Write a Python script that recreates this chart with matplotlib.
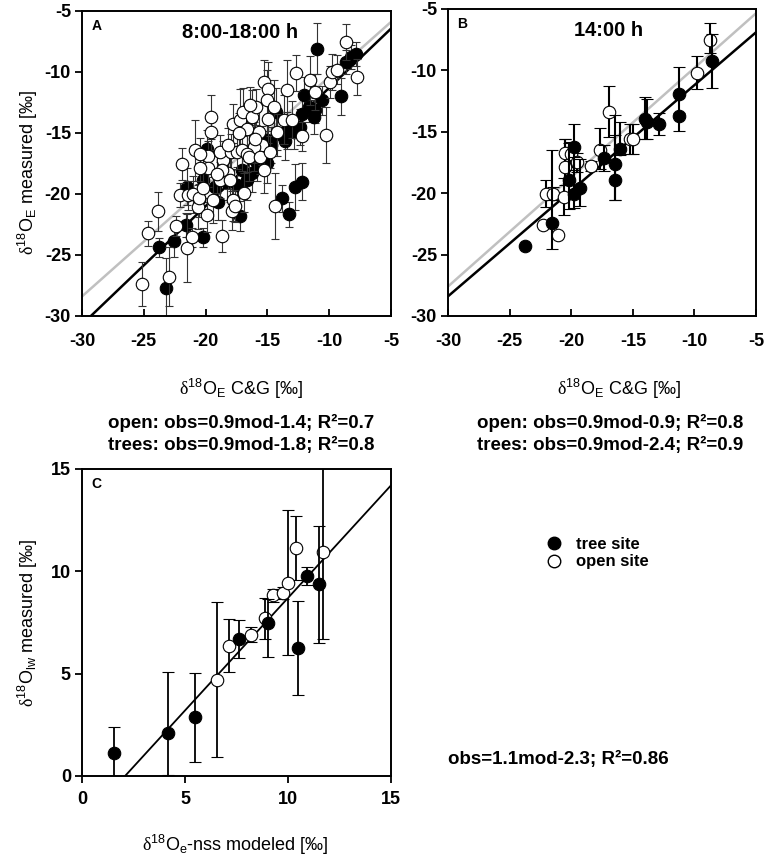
import matplotlib
matplotlib.use('Agg')
import matplotlib.pyplot as plt
from matplotlib.lines import Line2D
import numpy as np

plt.rcParams['font.family'] = ['Liberation Sans', 'DejaVu Sans']
plt.rcParams['axes.unicode_minus'] = False
plt.rcParams['mathtext.fontset'] = 'custom'
plt.rcParams['mathtext.rm'] = 'Liberation Sans'
plt.rcParams['mathtext.it'] = 'Liberation Sans:italic'
plt.rcParams['mathtext.bf'] = 'Liberation Sans:bold'
plt.rcParams['mathtext.sf'] = 'Liberation Serif'

# ---- panel A: 8:00-18:00 h ----
open_a_x = [-25.12, -24.63, -23.82, -22.95, -22.38, -21.54, -21.14, -18.64, -21.87, -22.09,
            -21.46, -21.0, -20.6, -20.5, -19.57, -19.57, -19.84, -19.84, -20.46, -20.87,
            -20.46, -19.38, -18.83, -18.56, -18.83, -18.16, -18.02, -17.97, -17.8, -17.89,
            -17.48, -17.07, -17.75, -17.21, -16.94, -16.67, -16.26, -15.91, -15.64, -15.45,
            -16.12, -16.67, -16.45, -15.26, -14.99, -15.26, -15.58, -14.99, -14.77, -15.04,
            -14.42, -14.23, -13.69, -13.0, -12.2, -11.57, -11.11, -10.3, -9.95, -9.76,
            -9.35, -8.67, -7.72, -16.4, -16.0, -17.3, -18.2, -18.7, -19.1, -20.2,
            -14.5, -13.4, -12.7, -17.6, -19.9, -16.9]
open_a_y = [-27.37, -23.23, -21.4, -26.77, -22.63, -24.45, -23.56, -23.45, -17.56, -20.1,
            -20.1, -20.04, -21.05, -20.37, -13.69, -14.92, -16.88, -17.9, -17.9, -16.4,
            -16.7, -20.5, -18.87, -17.23, -16.55, -18.32, -18.87, -16.55, -20.5, -21.37,
            -16.55, -16.42, -14.24, -13.96, -13.28, -14.65, -13.69, -12.87, -14.92, -16.0,
            -16.14, -16.69, -16.96, -10.83, -11.38, -18.05, -16.96, -13.83, -16.55, -12.33,
            -21.0, -14.92, -13.91, -13.91, -15.27, -10.7, -11.65, -15.19, -10.83, -10.01,
            -9.82, -7.56, -10.42, -12.7, -15.5, -15.0, -16.0, -18.0, -18.4, -19.5,
            -12.9, -11.5, -10.1, -21.0, -21.7, -19.9]
open_a_err = [1.8, 1.0, 1.6, 2.4, 0.8, 2.8, 0.8, 1.3, 1.3, 1.0,
              1.2, 1.5, 1.8, 1.2, 1.8, 1.5, 1.2, 1.5, 1.0, 2.5,
              1.3, 1.9, 1.5, 1.6, 1.4, 1.3, 1.8, 1.5, 1.7, 1.6,
              1.4, 1.7, 1.6, 2.6, 2.0, 1.8, 2.2, 1.5, 2.4, 1.6,
              2.0, 1.5, 2.0, 1.8, 2.2, 1.9, 1.4, 2.0, 1.3, 2.5,
              2.7, 1.5, 2.0, 1.5, 1.2, 2.0, 1.5, 2.3, 1.3, 1.5,
              1.2, 1.5, 1.5, 1.5, 2.0, 1.6, 1.4, 1.2, 1.5, 1.8,
              2.2, 2.5, 1.5, 1.3, 1.4, 1.6]
tree_a_x = [-23.77, -23.17, -22.55, -21.6, -20.19, -21.5, -20.19, -19.92, -18.97, -19.24,
            -17.21, -17.07, -16.67, -16.26, -15.85, -15.04, -14.28, -15.04, -14.23, -13.82,
            -13.28, -13.41, -12.87, -12.33, -12.74, -12.2, -12.2, -12.06, -11.65, -11.25,
            -11.11, -10.98, -10.57, -9.08, -8.67, -8.27, -7.86, -20.5, -18.3, -17.5,
            -13.6, -14.7]
tree_a_y = [-24.37, -27.72, -23.83, -22.55, -23.56, -19.4, -18.87, -16.28, -20.64, -19.41,
            -21.8, -18.05, -18.87, -18.32, -17.5, -17.5, -13.28, -15.6, -15.05, -20.37,
            -21.68, -14.78, -14.92, -14.5, -19.41, -19.0, -13.42, -11.92, -12.87, -13.69,
            -13.15, -8.1, -12.33, -12.0, -9.2, -8.79, -8.51, -20.4, -19.0, -19.3,
            -15.7, -16.0]
tree_a_err = [0.8, 2.5, 1.3, 1.0, 0.8, 1.5, 1.8, 1.5, 1.5, 1.5,
              1.2, 1.8, 1.6, 1.5, 1.4, 1.6, 2.0, 1.5, 1.8, 1.1,
              1.0, 1.5, 1.4, 1.5, 1.9, 1.5, 1.6, 1.5, 1.2, 1.4,
              1.0, 2.1, 1.2, 1.5, 1.0, 1.0, 1.0, 1.5, 1.5, 1.5,
              1.5, 1.5]
fit_a_open = (0.9, -1.4)
fit_a_tree = (0.97, -1.6)

# ---- panel B: 14:00 h ----
tree_b_x = [-23.78, -21.57, -20.16, -19.81, -19.81, -19.27, -17.32, -16.43, -16.43, -16.03,
            -14.0, -13.81, -12.84, -11.22, -11.22, -8.54]
tree_b_y = [-24.3, -22.47, -18.95, -16.24, -20.09, -19.55, -17.1, -18.95, -17.65, -16.43,
            -13.98, -14.2, -14.39, -11.9, -13.7, -9.25]
tree_b_lo = [0, 2.1, 2.35, 1.9, 1.1, 1.5, 1.1, 1.6, 2.9, 0.5, 1.6, 1.4, 0.9, 3.0, 0.2, 2.2]
tree_b_hi = [0, 6.0, 3.0, 1.9, 3.0, 2.3, 1.0, 3.7, 4.0, 2.2, 1.8, 1.9, 0.9, 2.2, 0.2, 2.25]
open_b_x = [-22.32, -22.05, -21.5, -21.1, -20.62, -20.54, -20.49, -20.0, -19.54, -18.4,
            -17.7, -16.92, -15.22, -14.95, -9.81, -8.73]
open_b_y = [-22.6, -20.03, -20.03, -23.4, -20.3, -17.86, -16.75, -16.83, -17.5, -17.78,
            -16.5, -13.36, -15.6, -15.6, -10.2, -7.56]
open_b_lo = [0, 1.1, 0.5, 0, 1.5, 1.5, 1.0, 1.0, 0.8, 0.4, 1.5, 2.1, 1.2, 1.2, 1.35, 1.0]
open_b_hi = [0, 1.1, 0.5, 0, 1.5, 2.3, 1.2, 1.0, 0.8, 0.4, 1.8, 2.1, 1.2, 1.2, 1.35, 1.45]
fit_b_open = (0.89, -0.9)
fit_b_tree = (0.86, -2.6)

# ---- panel C: lake water ----
tree_c_x = [1.56, 4.16, 5.5, 7.63, 9.01, 10.47, 10.94, 11.49]
tree_c_y = [1.14, 2.09, 2.88, 6.67, 7.45, 6.26, 9.77, 9.36]
tree_c_lo = [1.25, 2.05, 2.19, 0.93, 1.65, 2.29, 0.44, 2.86]
tree_c_hi = [1.23, 2.99, 2.15, 0.93, 1.18, 2.27, 0.43, 2.84]
open_c_x = [6.53, 7.13, 8.21, 8.9, 9.25, 9.77, 9.98, 10.37, 11.69]
open_c_y = [4.67, 6.34, 6.91, 7.7, 8.82, 8.95, 9.44, 11.13, 10.92]
open_c_lo = [3.75, 1.26, 0.35, 1.0, 0.3, 0.3, 3.55, 1.55, 4.25]
open_c_hi = [3.83, 1.31, 0.36, 1.0, 0.33, 0.3, 3.56, 1.55, 4.25]
fit_c = (1.1, -2.3)

ticks_e = [-30, -25, -20, -15, -10, -5]
ticks_c = [0, 5, 10, 15]

eq_a = ['open: obs=0.9mod-1.4; R²=0.7', 'trees: obs=0.9mod-1.8; R²=0.8']
eq_b = ['open: obs=0.9mod-0.9; R²=0.8', 'trees: obs=0.9mod-2.4; R²=0.9']
eq_c = 'obs=1.1mod-2.3; R²=0.86'

lab_e_x = r'$\mathsf{\delta}^{18}\mathrm{O}_{\mathrm{E}}$ C&G [‰]'
lab_e_y = r'$\mathsf{\delta}^{18}\mathrm{O}_{\mathrm{E}}$ measured [‰]'
lab_c_x = r'$\mathsf{\delta}^{18}\mathrm{O}_{\mathrm{e}}$-nss modeled [‰]'
lab_c_y = r'$\mathsf{\delta}^{18}\mathrm{O}_{\mathrm{lw}}$ measured [‰]'

fig = plt.figure(figsize=(7.67, 8.6), dpi=100)
ax_a = fig.add_axes([0.1069, 0.6326, 0.4029, 0.3547])
ax_b = fig.add_axes([0.5841, 0.6326, 0.4016, 0.3570])
ax_c = fig.add_axes([0.1069, 0.0977, 0.4029, 0.3570])


def style(ax, ticks, xdir):
    ax.set_xlim(ticks[0], ticks[-1])
    ax.set_ylim(ticks[0], ticks[-1])
    labels = [str(t) for t in ticks]
    ax.set_xticks(ticks, labels, fontsize=13, fontweight='bold')
    ax.set_yticks(ticks, labels, fontsize=13, fontweight='bold')
    for s in ax.spines.values():
        s.set_linewidth(1.4)
    ax.tick_params(axis='x', direction=xdir, length=5, width=1.3, pad=12 if xdir == 'in' else 6)
    ax.tick_params(axis='y', direction='out', length=5, width=1.3, pad=3)


# panel A
xs = np.array([-30, -5])
ax_a.plot(xs, fit_a_open[0] * xs + fit_a_open[1], color='#c0c0c0', lw=1.8, zorder=1)
ax_a.plot(xs, fit_a_tree[0] * xs + fit_a_tree[1], color='black', lw=1.8, zorder=1)
ax_a.errorbar(tree_a_x, tree_a_y, yerr=tree_a_err, fmt='o', ms=9, mfc='black', mec='black',
              mew=0.8, ecolor='#333333', elinewidth=0.8, capsize=3, capthick=0.8, zorder=2)
ax_a.errorbar(open_a_x, open_a_y, yerr=open_a_err, fmt='o', ms=9, mfc='white', mec='black',
              mew=0.8, ecolor='#333333', elinewidth=0.8, capsize=3, capthick=0.8, zorder=3)
style(ax_a, ticks_e, 'in')
ax_a.text(0.03, 0.975, 'A', transform=ax_a.transAxes, fontsize=10, fontweight='bold', va='top')
ax_a.text(0.51, 0.93, '8:00-18:00 h', transform=ax_a.transAxes, fontsize=14.5,
          fontweight='bold', ha='center', va='center')
ax_a.set_xlabel(lab_e_x, fontsize=13)
ax_a.xaxis.set_label_coords(0.515, -0.2)
ax_a.set_ylabel(lab_e_y, fontsize=13)
ax_a.yaxis.set_label_coords(-0.135, 0.47)

# panel B
ax_b.plot(xs, fit_b_open[0] * xs + fit_b_open[1], color='#c0c0c0', lw=1.8, zorder=1)
ax_b.plot(xs, fit_b_tree[0] * xs + fit_b_tree[1], color='black', lw=1.8, zorder=1)
ax_b.errorbar(open_b_x, open_b_y, yerr=[open_b_lo, open_b_hi], fmt='o', ms=9, mfc='white',
              mec='black', mew=0.8, ecolor='black', elinewidth=1.5, capsize=4, capthick=1.5, zorder=2)
ax_b.errorbar(tree_b_x, tree_b_y, yerr=[tree_b_lo, tree_b_hi], fmt='o', ms=9, mfc='black',
              mec='black', mew=0.8, ecolor='black', elinewidth=1.5, capsize=4, capthick=1.5, zorder=3)
style(ax_b, ticks_e, 'in')
ax_b.text(0.03, 0.975, 'B', transform=ax_b.transAxes, fontsize=10, fontweight='bold', va='top')
ax_b.text(0.52, 0.93, '14:00 h', transform=ax_b.transAxes, fontsize=14.5,
          fontweight='bold', ha='center', va='center')
ax_b.set_xlabel(lab_e_x, fontsize=13)
ax_b.xaxis.set_label_coords(0.555, -0.2)

# panel C
xc = np.array([0, 15])
ax_c.plot(xc, fit_c[0] * xc + fit_c[1], color='black', lw=1.3, zorder=1)
ax_c.errorbar(open_c_x, open_c_y, yerr=[open_c_lo, open_c_hi], fmt='o', ms=9, mfc='white',
              mec='black', mew=0.8, ecolor='black', elinewidth=1.3, capsize=4, capthick=1.3, zorder=2)
ax_c.errorbar(tree_c_x, tree_c_y, yerr=[tree_c_lo, tree_c_hi], fmt='o', ms=9, mfc='black',
              mec='black', mew=0.8, ecolor='black', elinewidth=1.3, capsize=4, capthick=1.3, zorder=3)
style(ax_c, ticks_c, 'out')
ax_c.text(0.03, 0.975, 'C', transform=ax_c.transAxes, fontsize=10, fontweight='bold', va='top')
ax_c.set_xlabel(lab_c_x, fontsize=13)
ax_c.xaxis.set_label_coords(0.495, -0.185)
ax_c.set_ylabel(lab_c_y, fontsize=13)
ax_c.yaxis.set_label_coords(-0.135, 0.5)

# regression equations
for k, y in enumerate([423, 445]):
    fig.text(241 / 767, 1 - y / 860, eq_a[k], fontsize=13.5, fontweight='bold', ha='center', va='center')
    fig.text(610 / 767, 1 - y / 860, eq_b[k], fontsize=13.5, fontweight='bold', ha='center', va='center')
fig.text(558 / 767, 1 - 759 / 860, eq_c, fontsize=13.5, fontweight='bold', ha='center', va='center')

# legend
handles = [Line2D([], [], ls='none', marker='o', ms=9, mfc='black', mec='black'),
           Line2D([], [], ls='none', marker='o', ms=9, mfc='white', mec='black')]
fig.legend(handles, ['tree site', 'open site'], loc='upper left', bbox_to_anchor=(0.712, 0.3756),
           frameon=False, handlelength=1, handletextpad=0.8, borderpad=0, borderaxespad=0,
           labelspacing=0.15, prop={'weight': 'bold', 'size': 12})

fig.savefig('out.png', dpi=100)
